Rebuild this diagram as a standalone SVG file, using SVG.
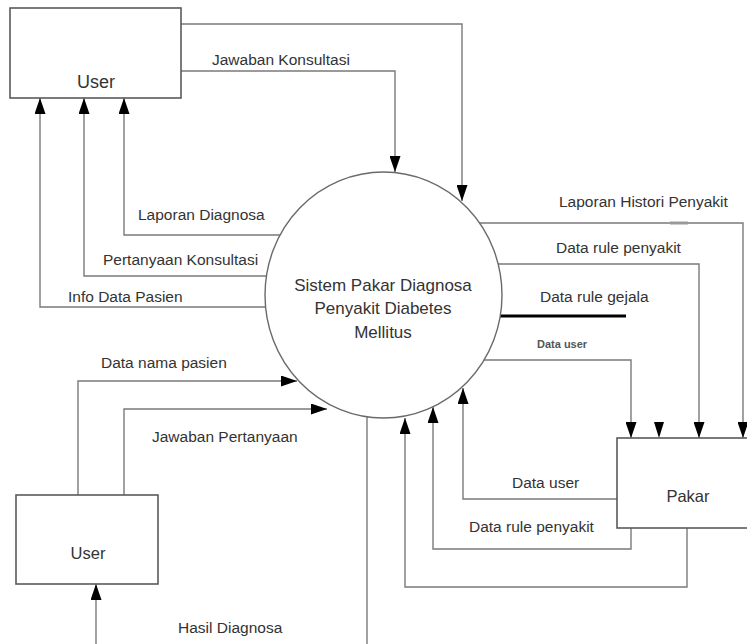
<svg xmlns="http://www.w3.org/2000/svg" width="747" height="644" viewBox="0 0 747 644">
<style>
.ln{fill:none;stroke:#7a7a7a;stroke-width:1.4}
.box{fill:#fff;stroke:#5a5a5a;stroke-width:1.6}
.t{font-family:"Liberation Sans",Arial,sans-serif;font-size:15.5px;fill:#333}
.s{font-family:"Liberation Sans",Arial,sans-serif;font-size:11px;font-weight:bold;fill:#555}
.nt{font-family:"Liberation Sans",Arial,sans-serif;fill:#333;text-anchor:middle}
</style>
<defs>
<marker id="ah" markerUnits="userSpaceOnUse" markerWidth="16" markerHeight="11" refX="16" refY="5.5" orient="auto">
<path d="M0,0 L16,5.5 L0,11 z" fill="#000"/>
</marker>
</defs>
<g id="connectors">
<path class="ln" d="M181,24 H462 V201" marker-end="url(#ah)"/>
<path class="ln" d="M181,71 H395 V172" marker-end="url(#ah)"/>
<path class="ln" d="M300,235 H124 V98" marker-end="url(#ah)"/>
<path class="ln" d="M300,276 H84 V98" marker-end="url(#ah)"/>
<path class="ln" d="M300,307 H40 V98" marker-end="url(#ah)"/>
<path class="ln" d="M78,495 V381 H297" marker-end="url(#ah)"/>
<path class="ln" d="M124,495 V409 H327" marker-end="url(#ah)"/>
<path class="ln" d="M96,644 V584" marker-end="url(#ah)"/>
<path class="ln" d="M367,410 V644"/>
<path class="ln" d="M470,223 H743 V438" marker-end="url(#ah)"/>
<line x1="670" y1="223" x2="688" y2="223" stroke="#9a9a9a" stroke-width="3"/>
<path class="ln" d="M480,264 H699 V438" marker-end="url(#ah)"/>
<path d="M495,316 H626" fill="none" stroke="#000" stroke-width="3"/>
<path class="ln" d="M470,360 H631 V438" marker-end="url(#ah)"/>
<path d="M654,422 L664,422 L659,438 z" fill="#000"/>
<path class="ln" d="M617,499 H463 V388" marker-end="url(#ah)"/>
<path class="ln" d="M631,528 V549 H433 V407" marker-end="url(#ah)"/>
<path class="ln" d="M687,528 V587 H405 V418" marker-end="url(#ah)"/>
</g>
<g id="process">
<ellipse cx="383.5" cy="295" rx="118.5" ry="123" fill="#fff" stroke="#6a6a6a" stroke-width="1.4"/>
<text class="nt" x="383" y="291" font-size="17px">Sistem Pakar Diagnosa</text>
<text class="nt" x="383" y="314" font-size="17px">Penyakit Diabetes</text>
<text class="nt" x="383" y="338" font-size="17px">Mellitus</text>
</g>
<g id="user-top">
<rect class="box" x="10" y="8" width="171" height="90"/>
<text class="nt" x="96" y="88" font-size="18px">User</text>
</g>
<g id="user-bottom">
<rect class="box" x="16" y="495" width="142" height="89"/>
<text class="nt" x="88" y="559" font-size="16.5px">User</text>
</g>
<g id="pakar">
<rect class="box" x="617" y="438" width="140" height="90"/>
<text class="nt" x="688" y="502" font-size="16.5px">Pakar</text>
</g>
<g id="labels">
<text class="t" x="212" y="65">Jawaban Konsultasi</text>
<text class="t" x="138" y="220">Laporan Diagnosa</text>
<text class="t" x="103" y="265">Pertanyaan Konsultasi</text>
<text class="t" x="68" y="302">Info Data Pasien</text>
<text class="t" x="101" y="368">Data nama pasien</text>
<text class="t" x="152" y="442">Jawaban Pertanyaan</text>
<text class="t" x="178" y="633">Hasil Diagnosa</text>
<text class="t" x="559" y="207">Laporan Histori Penyakit</text>
<text class="t" x="556" y="253">Data rule penyakit</text>
<text class="t" x="540" y="302">Data rule gejala</text>
<text class="s" x="537" y="348">Data user</text>
<text class="t" x="512" y="488">Data user</text>
<text class="t" x="469" y="532">Data rule penyakit</text>
</g>
</svg>
